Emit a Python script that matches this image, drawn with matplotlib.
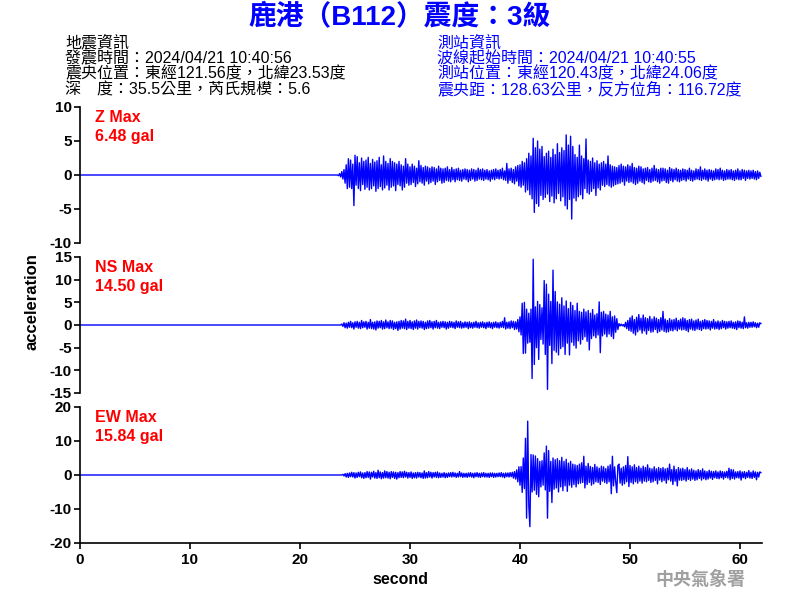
import numpy as np
import matplotlib
matplotlib.use("Agg")
import matplotlib.pyplot as plt

plt.rcParams['font.family'] = ['Liberation Sans', 'Noto Sans CJK TC', 'DejaVu Sans']

# 標題與資訊
title = '鹿港（B112）震度：3級'
quake_info = ['地震資訊',
              '發震時間：2024/04/21 10:40:56',
              '震央位置：東經121.56度，北緯23.53度',
              '深　度：35.5公里，芮氏規模：5.6']
station_info = ['測站資訊',
                '波線起始時間：2024/04/21 10:40:55',
                '測站位置：東經120.43度，北緯24.06度',
                '震央距：128.63公里，反方位角：116.72度']

channels = ['Z', 'NS', 'EW']
max_gal = [6.48, 14.50, 15.84]
y_limits = [10, 15, 20]
y_ticks = [[-10, -5, 0, 5, 10],
           [-15, -10, -5, 0, 5, 10, 15],
           [-20, -10, 0, 10, 20]]
x_ticks = [0, 10, 20, 30, 40, 50, 60]

# 波形 (gal)，由 23.0 秒起每 0.1 秒一筆，之前為靜止
start_sec = 23.0
step_sec = 0.1

z_accel = [
    0, 0, 0, 0, 0, -0.1, 0.2, -0.3, 0.5, -0.6,
    0.8, -1.2, 1.5, -2.0, 2.4, -1.8, 2.2, -2.0, 1.6, -4.5,
    2.9, -1.5, 2.7, -2.0, 1.8, -2.3, 2.5, -1.4, 2.0, -2.1,
    2.2, -1.8, 2.6, -2.2, 1.7, -2.0, 2.3, -1.6, 1.9, -2.4,
    2.1, -2.0, 2.6, -1.7, 1.5, -2.2, 2.8, -1.9, 2.0, -1.5,
    1.7, -2.2, 2.4, -1.8, 2.0, -1.6, 1.8, -2.3, 1.6, -1.4,
    2.0, -1.6, 1.5, -2.2, 1.3, -1.8, 2.4, -1.2, 1.6, -1.5,
    1.2, -1.4, 1.6, -1.1, 1.3, -1.7, 1.0, -1.3, 2.1, -1.0,
    1.4, -1.2, 1.1, -1.5, 1.3, -0.9, 1.2, -1.3, 1.0, -1.1,
    1.2, -0.9, 1.1, -1.4, 0.9, -1.0, 1.3, -0.8, 1.0, -1.2,
    0.9, -1.1, 1.0, -0.8, 1.2, -0.9, 0.8, -1.0, 1.1, -0.7,
    0.8, -1.0, 0.9, -0.7, 1.0, -0.8, 0.7, -0.9, 0.8, -0.6,
    0.9, -0.7, 0.8, -1.0, 0.7, -0.8, 0.9, -0.6, 0.8, -0.9,
    0.7, -0.8, 1.0, -0.6, 0.8, -0.7, 0.9, -0.8, 0.7, -0.6,
    0.8, -0.7, 0.6, -0.9, 0.7, -0.6, 0.8, -0.7, 0.9, -0.5,
    0.7, -0.6, 0.8, -0.5, 1.0, -0.7, 0.6, -0.8, 1.7, -1.2,
    0.9, -0.8, 1.0, -1.1, 0.8, -1.3, 1.2, -0.9, 1.4, -1.6,
    1.5, -1.8, 2.0, -1.5, 1.8, -2.5, 2.4, -2.2, 3.2, -2.9,
    2.8, -3.5, 5.4, -5.5, 4.0, -4.2, 5.0, -4.6, 3.8, -3.0,
    4.2, -3.6, 2.7, -3.3, 3.2, -2.8, 3.5, -3.9, 2.6, -3.1,
    3.8, -4.1, 3.0, -3.5, 4.6, -2.7, 3.3, -3.8, 4.0, -3.2,
    3.6, -4.5, 5.9, -5.0, 4.4, -3.6, 5.7, -6.48, 4.2, -3.4,
    3.0, -3.8, 2.6, -3.2, 4.4, -2.9, 2.8, -3.5, 2.4, -2.0,
    5.3, -2.6, 2.2, -2.8, 2.0, -2.4, 2.5, -2.0, 1.8, -3.0,
    2.1, -1.9, 1.6, -2.2, 1.8, -1.5, 2.0, -1.7, 1.6, -1.4,
    2.8, -1.6, 1.5, -1.8, 1.3, -1.6, 1.2, -1.4, 1.1, -1.3,
    1.4, -1.2, 1.6, -1.0, 1.3, -1.5, 1.2, -0.9, 1.5, -1.1,
    1.3, -1.0, 1.7, -1.2, 1.1, -1.4, 1.0, -1.2, 1.3, -0.9,
    1.2, -1.1, 0.9, -1.3, 1.0, -0.8, 1.1, -1.0, 0.8, -1.1,
    1.0, -0.9, 1.4, -0.8, 0.9, -1.0, 0.8, -1.2, 1.0, -0.9,
    1.0, -0.8, 0.9, -1.1, 0.7, -1.2, 1.1, -0.8, 0.9, -1.0,
    0.8, -0.7, 1.0, -0.9, 0.8, -1.0, 0.7, -0.8, 0.9, -0.7,
    0.8, -0.9, 0.7, -0.6, 1.0, -0.8, 0.7, -0.9, 0.6, -0.7,
    0.9, -0.6, 0.8, -0.7, 1.2, -0.8, 0.7, -0.6, 0.9, -0.7,
    0.7, -0.9, 0.8, -0.6, 0.7, -0.8, 0.6, -0.7, 0.9, -0.6,
    0.8, -0.7, 1.0, -0.6, 0.7, -0.8, 0.6, -0.7, 0.8, -0.6,
    0.7, -0.6, 0.8, -0.7, 0.6, -0.8, 0.7, -0.6, 0.9, -0.7,
    0.6, -0.7, 0.8, -0.5, 0.7, -0.8, 0.6, -0.5, 0.7, -0.6,
    0.6, -0.5, 0.7, -0.6, 0.5, -0.7, 0.6, -0.5, 0.4, -0.2,
]

ns_accel = [
    0, 0, 0, 0, 0, 0, 0, 0, 0.2, -0.3,
    0.5, -0.6, 0.4, -0.7, 0.6, -0.5, 0.8, -0.6, 0.5, -0.9,
    0.7, -0.5, 0.8, -0.7, 0.6, -0.8, 1.0, -0.6, 0.7, -0.5,
    0.8, -0.9, 0.6, -0.7, 1.2, -0.8, 0.6, -0.9, 0.7, -1.1,
    0.9, -0.7, 0.8, -0.6, 1.0, -0.9, 0.7, -0.8, 1.1, -0.6,
    0.7, -0.8, 1.0, -0.7, 0.9, -1.0, 0.6, -0.8, 0.7, -1.2,
    0.8, -0.9, 1.0, -0.7, 0.9, -0.8, 1.3, -1.0, 0.8, -0.7,
    1.0, -0.8, 0.7, -1.0, 0.9, -0.7, 1.1, -0.9, 0.8, -0.6,
    0.9, -0.7, 0.8, -1.0, 0.6, -0.8, 0.9, -0.7, 1.0, -0.6,
    0.7, -0.9, 0.8, -0.6, 1.0, -0.7, 0.6, -0.8, 0.7, -0.5,
    0.8, -0.6, 0.7, -0.9, 0.6, -0.7, 0.8, -0.5, 0.7, -0.6,
    0.6, -0.8, 0.9, -0.5, 0.7, -0.6, 0.8, -0.7, 0.5, -0.6,
    0.7, -0.5, 0.6, -0.8, 0.7, -0.6, 0.5, -0.7, 0.6, -0.5,
    0.8, -0.6, 0.5, -0.7, 0.6, -0.5, 0.7, -0.6, 0.5, -0.8,
    0.6, -0.5, 0.7, -0.6, 0.5, -0.8, 0.6, -0.5, 0.7, -0.6,
    0.5, -0.7, 0.6, -0.5, 0.8, -0.6, 1.6, -0.9, 0.6, -0.7,
    0.7, -0.8, 0.9, -0.6, 0.8, -1.0, 0.7, -0.9, 1.2, -1.5,
    1.8, -2.2, 4.8, -6.3, 5.0, -6.2, 3.5, -4.0, 2.6, -3.8,
    3.5, -11.8, 14.5, -8.7, 4.0, -5.0, 5.2, -7.6, 4.5, -3.2,
    3.8, -4.2, 9.8, -6.5, 9.0, -14.2, 6.8, -4.5, 5.2, -8.5,
    12.1, -5.6, 7.4, -6.0, 5.1, -6.6, 4.6, -5.2, 6.0, -4.8,
    4.2, -6.5, 5.3, -4.0, 3.6, -6.6, 5.0, -3.8, 4.3, -4.5,
    3.2, -5.1, 4.8, -3.5, 3.0, -4.2, 2.8, -3.2, 3.5, -2.6,
    2.9, -3.6, 3.2, -5.5, 2.6, -3.0, 3.4, -2.4, 2.2, -2.8,
    2.5, -2.2, 5.1, -6.1, 2.8, -2.4, 3.0, -2.0, 2.4, -2.6,
    2.2, -2.0, 3.0, -2.5, 1.8, -3.0, 2.0, -1.6, 1.4, -1.0,
    0.3, -0.2, 0.2, -0.2, 0.1, -0.4, 0.6, -0.8, 1.0, -1.2,
    1.6, -1.4, 2.0, -1.8, 1.2, -2.2, 1.7, -1.5, 2.3, -1.1,
    1.5, -1.8, 2.2, -1.3, 1.6, -2.0, 1.4, -1.2, 1.9, -1.6,
    1.3, -1.5, 1.8, -1.0, 1.5, -1.7, 1.2, -1.4, 1.6, -1.1,
    3.0, -1.4, 1.3, -1.6, 1.0, -1.5, 1.4, -1.2, 1.1, -1.3,
    1.2, -1.0, 1.5, -1.3, 1.0, -0.9, 1.3, -1.1, 1.6, -1.0,
    1.4, -1.2, 1.0, -1.5, 1.2, -0.9, 1.3, -1.1, 0.9, -1.2,
    1.1, -0.9, 1.3, -1.0, 0.8, -1.2, 1.0, -0.8, 1.2, -0.9,
    1.0, -0.8, 0.9, -1.1, 0.8, -0.7, 1.2, -0.9, 0.7, -0.8,
    0.9, -1.0, 0.7, -0.8, 1.0, -0.6, 0.8, -0.9, 0.7, -0.7,
    0.8, -0.6, 0.9, -0.7, 0.6, -0.8, 0.7, -1.0, 0.9, -0.6,
    0.8, -0.7, 0.6, -0.8, 1.8, -0.6, 0.5, -0.7, 0.6, -0.5,
    0.6, -0.5, 0.7, -0.4, 0.5, -0.6, 0.4, -0.5, 0.5, 0.3,
]

ew_accel = [
    0, 0, 0, 0, 0, 0, 0, 0, 0, 0.2,
    -0.3, 0.4, -0.6, 0.5, -0.7, 0.6, -0.5, 0.8, -0.6, 0.7,
    -0.9, 0.6, -0.7, 0.8, -0.5, 0.9, -0.8, 0.6, -1.0, 0.7,
    -0.8, 1.0, -0.7, 0.9, -1.2, 0.8, -0.6, 1.1, -0.9, 0.7,
    -1.0, 1.4, -0.8, 0.9, -1.1, 0.7, -0.9, 1.2, -0.8, 1.0,
    -0.9, 0.8, -1.1, 1.0, -0.7, 0.9, -1.0, 0.8, -1.2, 0.7,
    -0.8, 1.0, -0.7, 0.9, -0.8, 1.1, -0.6, 0.8, -0.9, 0.7,
    -0.7, 0.9, -1.0, 0.6, -0.8, 0.7, -0.9, 0.8, -0.6, 0.7,
    -0.8, 0.6, -1.0, 1.2, -0.9, 0.7, -0.8, 1.0, -0.6, 0.8,
    -0.9, 0.7, -0.6, 0.8, -0.7, 0.9, -0.8, 0.6, -0.7, 0.5,
    -0.6, 0.7, -0.8, 0.5, -0.7, 0.6, -0.5, 0.7, -0.6, 0.8,
    -0.5, 0.6, -0.7, 0.5, -0.6, 1.0, -0.5, 0.6, -0.7, 0.5,
    -0.6, 0.5, -0.7, 0.6, -0.5, 0.7, -0.6, 0.5, -0.8, 0.6,
    -0.5, 0.7, -0.6, 0.5, -0.7, 0.6, -0.5, 0.7, -0.6, 0.5,
    -0.6, 0.5, -0.7, 0.6, -0.5, 0.6, -0.7, 0.5, -0.6, 0.5,
    -0.5, 0.6, -0.5, 0.7, -0.6, 0.5, -0.8, 0.6, -0.5, 0.6,
    -0.6, 0.7, -0.5, 0.8, -0.9, 1.0, -1.2, 1.5, -2.0, 2.4,
    -3.0, 2.5, -5.1, 5.0, -4.0, 10.8, -12.7, 15.84, -9.0, -15.2,
    6.0, -5.0, 5.9, -4.5, 5.6, -5.7, 4.8, -6.4, 4.0, -3.5,
    4.2, -3.0, 6.5, -4.4, 8.5, -12.7, 7.2, -4.8, 4.0, -8.1,
    5.0, -4.2, 4.5, -3.8, 4.8, -5.0, 4.2, -3.5, 5.2, -4.6,
    4.0, -3.2, 4.6, -4.8, 3.5, -3.0, 4.0, -3.6, 3.2, -2.8,
    3.0, -3.5, 2.8, -2.6, 3.2, -2.4, 3.6, -2.2, 5.5, -3.8,
    2.6, -2.8, 3.4, -2.2, 2.5, -3.0, 2.2, -2.6, 3.1, -2.0,
    2.4, -2.2, 2.0, -2.8, 2.6, -1.8, 2.4, -2.2, 1.9, -2.5,
    2.6, -2.0, 3.0, -5.5, 5.5, -3.2, 2.4, -2.0, -5.2, 2.8,
    3.2, -2.4, 2.0, -3.0, 2.4, -2.6, 2.8, -2.0, 5.4, -3.4,
    2.8, -2.2, 2.4, -2.6, 3.0, -2.0, 2.2, -2.4, 2.6, -1.8,
    2.0, -2.4, 2.6, -1.8, 2.2, -2.0, 3.0, -1.6, 2.0, -2.2,
    1.8, -2.0, 2.4, -1.6, 1.8, -2.6, 2.2, -1.5, 1.9, -2.0,
    2.2, -1.6, 1.8, -2.4, 2.0, -1.4, 3.2, -1.8, 1.6, -2.8,
    2.6, -1.8, 1.6, -3.2, 2.2, -1.5, 1.8, -1.6, 2.0, -1.4,
    1.6, -1.8, 2.2, -1.3, 1.5, -1.6, 1.8, -1.2, 1.4, -1.6,
    1.2, -1.4, 1.6, -1.0, 1.3, -1.5, 1.8, -1.1, 1.2, -1.4,
    1.0, -1.2, 1.4, -0.9, 1.1, -1.3, 1.0, -0.8, 1.2, -1.0,
    0.9, -1.1, 1.2, -0.8, 1.0, -1.2, 0.9, -0.7, 1.1, -0.9,
    2.0, -1.4, 1.6, -1.0, 1.5, -1.2, 0.9, -0.8, 1.0, -0.9,
    1.2, -1.5, 0.9, -0.8, 1.0, -1.1, 0.8, -0.7, 1.3, -0.9,
    0.8, -1.0, 1.2, -0.7, 0.9, -1.4, 0.8, -0.6, 0.9, 0.7,
]

waves = [z_accel, ns_accel, ew_accel]

fig = plt.figure(figsize=(8, 6), dpi=100)

# 標題
fig.text(0.5, 1 - 18 / 600, title, ha='center', va='center', color='#0000ff',
         fontsize=20, fontweight='bold')
line_y = [43, 59, 74, 90]
for txt, y in zip(quake_info, line_y):
    fig.text(65 / 800, 1 - y / 600, txt, ha='left', va='center', color='black', fontsize=11.5)
for txt, y in zip(station_info, line_y):
    fig.text(437 / 800, 1 - y / 600, txt, ha='left', va='center', color='#0000ff', fontsize=11.5)

# 三個分量
panel_px = [(107, 243), (257, 393), (407, 543)]
axes = []
for k, (top, bot) in enumerate(panel_px):
    ax = fig.add_axes([80 / 800, 1 - bot / 600, 682 / 800, (bot - top) / 600])
    vals = np.array(waves[k])
    t = start_sec + step_sec * np.arange(len(vals))
    t = np.concatenate([[0.0], t])
    vals = np.concatenate([[0.0], vals])
    ax.plot(t, vals, color='#0000ff', linewidth=1.0)
    ax.set_xlim(0, 62)
    ax.set_ylim(-y_limits[k], y_limits[k])
    ax.set_yticks(y_ticks[k])
    ax.set_yticklabels([str(v) for v in y_ticks[k]], fontweight='bold', fontsize=11)
    for side in ['top', 'right']:
        ax.spines[side].set_visible(False)
    ax.spines['left'].set_linewidth(1.2)
    ax.tick_params(axis='y', direction='out', length=4, width=1.2, pad=2)
    if k < 2:
        ax.spines['bottom'].set_visible(False)
        ax.set_xticks([])
    else:
        ax.spines['bottom'].set_linewidth(1.2)
        ax.set_xticks(x_ticks)
        ax.set_xticklabels([str(v) for v in x_ticks], fontweight='bold', fontsize=11)
        ax.tick_params(axis='x', direction='out', length=4, width=1.2, pad=3)
    fig.text(95 / 800, 1 - (top + 10) / 600, f'{channels[k]} Max', ha='left', va='center',
             color='#ff0000', fontsize=11.5, fontweight='bold')
    fig.text(95 / 800, 1 - (top + 30) / 600, f'{max_gal[k]:.2f} gal', ha='left', va='center',
             color='#ff0000', fontsize=11.5, fontweight='bold')
    axes.append(ax)

fig.text(32 / 800, 1 - 302 / 600, 'acceleration', rotation=90, ha='center', va='center',
         fontsize=12, fontweight='bold')
fig.text(400 / 800, 1 - 580 / 600, 'second', ha='center', va='center',
         fontsize=11.5, fontweight='bold')
fig.text(700 / 800, 1 - 580 / 600, '中央氣象署', ha='center', va='center',
         fontsize=13, fontweight='bold', color='#a0a0a0')

fig.savefig('out.png', dpi=100)
